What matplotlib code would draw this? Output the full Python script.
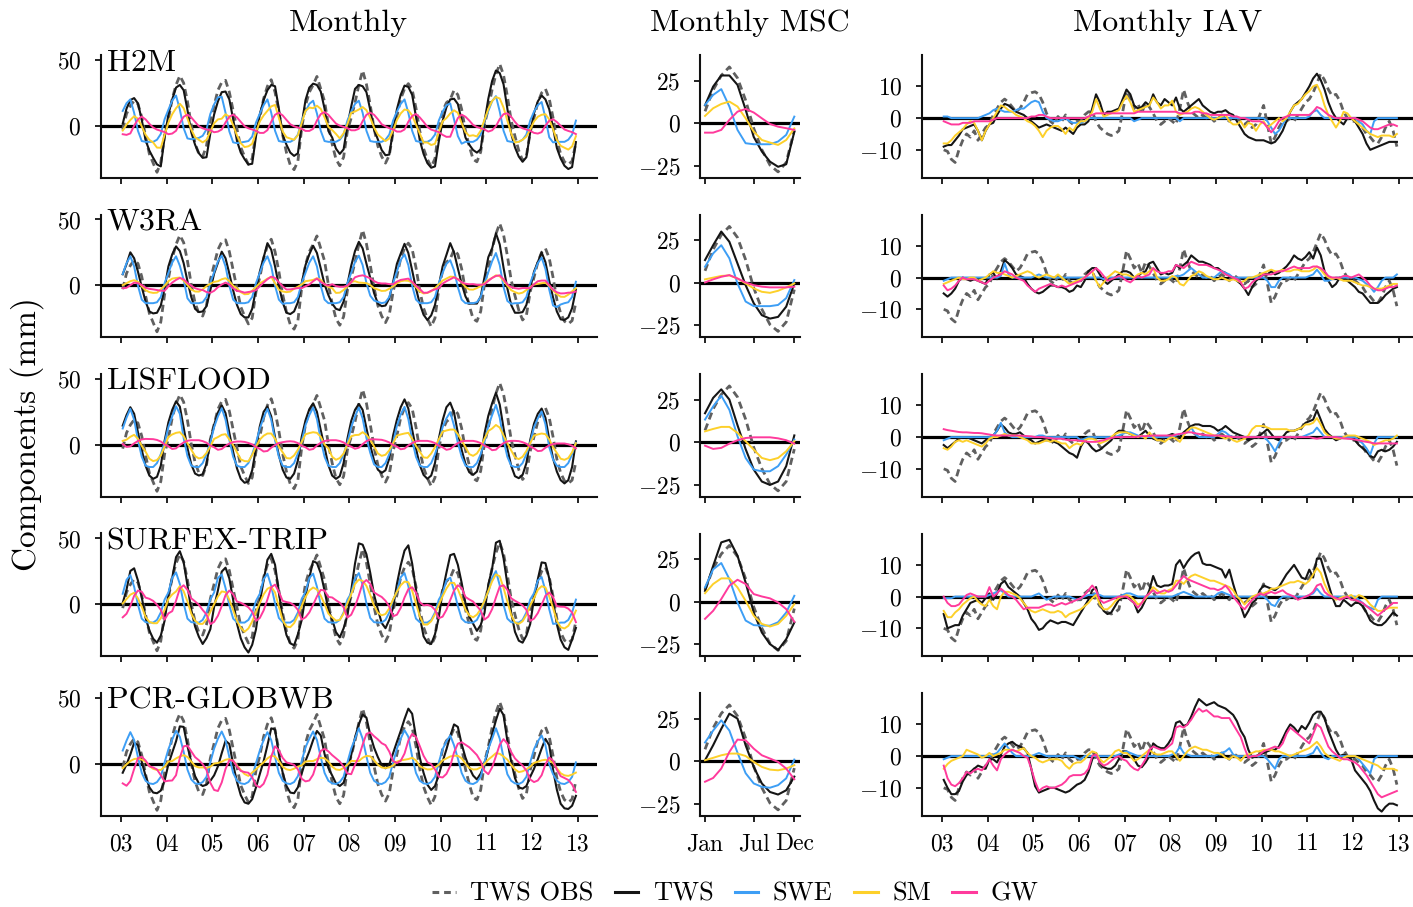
import numpy as np
import matplotlib
matplotlib.use("Agg")
import matplotlib.pyplot as plt
from matplotlib.lines import Line2D

plt.rcParams['font.family'] = 'serif'
plt.rcParams['font.serif'] = ['cmr10']
plt.rcParams['mathtext.fontset'] = 'cm'
plt.rcParams['axes.formatter.use_mathtext'] = True
plt.rcParams['axes.unicode_minus'] = True

# ---------------- data ----------------
models = ["H2M", "W3RA", "LISFLOOD", "SURFEX-TRIP", "PCR-GLOBWB"]
year_ticks = [2003, 2004, 2005, 2006, 2007, 2008, 2009, 2010, 2011, 2012, 2013]
year_labels = ["03", "04", "05", "06", "07", "08", "09", "10", "11", "12", "13"]
msc_ticks = [1, 7, 12]
msc_labels = ["Jan", "Jul", "Dec"]
months = [1, 2, 3, 4, 5, 6, 7, 8, 9, 10, 11, 12]

# Mean seasonal cycle (Jan..Dec)
OBS_MSC = [7, 19.5, 28, 33, 26.5, 13.5, -3, -15.5, -24.5, -28.5, -23, -4]

H2M_TWS_MSC = [10.5, 21.5, 28, 28, 22.5, 8, -8, -16.5, -22.5, -25.5, -24, -5]
H2M_SWE_MSC = [10.7, 16.6, 20, 9.8, -3.9, -11.7, -12.3, -12.3, -12.3, -10.7, -6.8, 3.9]
H2M_SM_MSC = [4.3, 8.8, 11.3, 12.7, 9.8, 2.9, -4.9, -9.8, -11.3, -12.7, -9.8, -3]
H2M_GW_MSC = [-5.5, -5.5, -3.9, 2, 6.8, 8.4, 6.3, 2.9, -0.4, -2, -2.9, -3.9]

W3RA_TWS_MSC = [13.3, 22, 30, 24, 11.3, -1.4, -12, -19, -21, -20, -14, -0.4]
W3RA_SWE_MSC = [9.4, 17.2, 22, 14.3, -0.4, -11, -13.7, -13.7, -13.7, -13, -9, 1.6]
W3RA_SM_MSC = [2, 3, 4, 4.3, 2.5, -0.4, -3.3, -5.3, -5.9, -4.7, -2.7, -0.4]
W3RA_GW_MSC = [0.2, 2, 3.5, 4.5, 2.5, 0.2, -1.4, -2.3, -2.7, -2.7, -2.7, -2.3]

LIS_TWS_MSC = [17, 26, 31, 25, 10, -4, -16, -23, -25, -23, -14, 4]
LIS_SWE_MSC = [13.3, 21, 27.3, 19, 3.5, -9.2, -16, -17, -17, -14, -7.2, 1.6]
LIS_SM_MSC = [6.4, 7.8, 9, 9, 5.5, 0.6, -4.3, -9.2, -10.5, -9.2, -5.3, 0.6]
LIS_GW_MSC = [-2, -3.9, -3.3, -0.8, 1.2, 2.5, 2.9, 2.9, 2.9, 2.3, 1.2, -0.8]

SUR_TWS_MSC = [6.4, 21, 34.8, 36.3, 27, 11.3, -6.3, -18, -24.8, -28.3, -21.9, -12.1]
SUR_SWE_MSC = [8.4, 19, 22.7, 13.3, -0.4, -11, -13.7, -14, -14, -12, -6.3, 3.5]
SUR_SM_MSC = [5, 10.4, 13.7, 13.7, 8.4, 0.6, -8.2, -13, -14.5, -13, -8.2, -1.4]
SUR_GW_MSC = [-10, -5.3, 1.6, 9.4, 12.9, 10.4, 4.5, 3.1, 2, -0.4, -4.3, -11.7]

PCR_TWS_MSC = [0.6, 9.4, 19, 27.9, 25, 9.4, -3.3, -13, -18, -19.5, -17, -9]
PCR_SWE_MSC = [11, 18, 24, 18, 5, -7, -13, -15, -15.5, -14, -10, 1]
PCR_SM_MSC = [0.6, 2, 3.5, 4.5, 4.5, 3.1, -0.4, -3.3, -4.9, -5.3, -4.3, -2.3]
PCR_GW_MSC = [-12, -9.8, -4.3, 5.5, 12.7, 12.3, 7.4, 3.5, 1.6, -0.4, -4.3, -10.5]

# Interannual anomalies, monthly Jan 2003 .. Dec 2012
OBS_IAV = [-10, -10.5, -13, -14, -10, -7, -5, -6, -4, -7, -5, -3,
           -2, 1, 3, 5, 6, 5, 3.5, 2, 3, 5, 7.5, 8,
           8.3, 7.5, 5, 1.5, -1, -2, 0.5, -1, 1, -1, -2, -1,
           -1, 1, 2, 2, -1, -3, -4, -5, -5.5, -5, -4, 2,
           8.5, 6, 3, 4.5, 1.5, 5, 3.5, 1.5, -1, -2, -1, 0,
           -1, -2, 3, 9, 5, 2, 1, 0, 1, 0, 0.5, -1,
           0, 1, 0, -1, 1, 0, -1, -2, -1, -3, -2, 1,
           4, -2, -8, -6, -3, -1, -1, 0, -1, 1, 3, 5,
           6, 8, 11, 14, 12, 9, 7, 7.5, 5.5, 2, 0, -1,
           -1, -2, -3, -5, -6, -7.5, -8, -6, -3, -1, -4, -9]

H2M_TWS_IAV = [-9, -8.5, -8.5, -7, -5.5, -3.5, -3, -2.5, -2, -4, -7, -4,
               -2, -1.5, 1, 3, 4.5, 4, 3, 2, 1.5, 1, 0, -1,
               -2, -3, -2.5, -2, -2.5, -3, -3.5, -4, -3, -4, -5, -3,
               -2, -2, -1, 3, 7.5, 5, 1, 2, 2, 2.5, 3, 6,
               9, 7.5, 4, 3, 3.5, 5, 4, 7.5, 5, 4, 6, 5,
               4, 6.5, 3, 2, 3, 4, 5, 6, 4, 3, 2, 1.5,
               2, 2, 2.5, 1.5, 1, -1, -3, -5, -6, -6.5, -7, -7,
               -7, -7.5, -8, -7.5, -6, -4, -1, 2, 4, 5, 6, 8,
               10, 12.5, 14, 12, 9, 5, 2, 0, -1, -2, 0, 0,
               -1, -3, -5, -8, -10, -9.5, -9, -8.5, -8, -7.5, -7.5, -7.5]
H2M_SWE_IAV = [0.5, 0.5, 0, 0, 0, 0, 0, 0, 0, 0, 0.5, 1,
               1.5, 2.5, 3, 2.5, 2, 2, 2, 2.5, 3, 3, 4, 5,
               5.5, 5, 2, 0, -0.5, -1, -1, -0.5, 0, -1, -1.5, -1.5,
               -1.5, -1, 0, 0, 0, 0, 0, 0, 0, 0, 0, 0,
               0, 0, -1, -0.5, 0, 0, 0, 0, 0, 0, 0, 0,
               0, 0, -1, 0, 0, 0, 0, 0, 0, 0, 0, 0,
               0, 0, 0, 0, 0, 0, 0, 0, 0, 0, 0, 0,
               0, -1, -3, -5, -4, -2, 0, 0, 0, 0, 0, 0,
               0.5, 2, 2.5, 1, 0, 0, 0, 0, 0, 0, 0, 0,
               0, -1, -2, -4, -5, -1, 0, 0, 0, 0, 0, 0]
H2M_SM_IAV = [-8, -8, -7, -5.5, -4.5, -3.5, -2, -1, -1.5, -4, -7, -4,
              -2, 0, 2, 4, 3.5, 2.5, 2, 1, 0.5, 0, -1, -1.5,
              -2.5, -4, -6, -4, -3, -2.5, -2.5, -3.5, -5, -3, -4, -2,
              -1, -1, 0, 2, 6, 3, 0.5, 1, 1.5, 2, 2.5, 5,
              7, 5, 2, 2.5, 3, 3.5, 4, 6.5, 5, 3, 4, 4,
              5.5, 2, 1, 1.5, 2, 3, 3.5, 3, 2, 1, 0, -0.5,
              0, 0.5, 1, -1, -2, -2, -1, -3, -1.5, -2, -4, -2,
              -1, -3, -2, -1, 0, -1, 0, 2, 4, 4.5, 6, 7.5,
              8.5, 10, 10.5, 8, 4, 1, -1, -3, -1, 2, 1.5, 0,
              -1, -2, -3, -4, -5, -5.5, -6, -5.5, -5.5, -5.5, -6, -5]
H2M_GW_IAV = [-1, -1.5, -2, -2, -2, -1.5, -1.5, -1.5, -1, -1, -1, -1,
              -1, -0.5, 0, 0, 0, 0, 0, 0, 0, 0, 0, 0.5,
              0.5, 1, 1, 0.5, 0, 0, 0, 0, 0, 0, 0, 0,
              0, 0, 0.5, 1, 1.5, 1.5, 1.5, 1.5, 1.5, 1.5, 1.5, 1.5,
              1.5, 1.5, 1.5, 2, 2, 2, 2, 2, 2, 2, 2, 2,
              2, 2, 1.5, 1.5, 1.5, 1.5, 2, 2, 1.5, 1.5, 1, 1,
              1, 1, 1, 1, 0.5, 0.5, 0, 0, -0.5, -1, -1, -1,
              -1.5, -3, -4.5, -3, -1, 0, 0.5, 1, 1, 1, 1, 1,
              1, 2, 3.5, 3, 2, 1, 0.5, 0, 0, 0, 0, 0,
              0, -0.5, -1, -2, -3, -3.5, -3.5, -3, -2.5, -2, -2, -2.5]

W3RA_TWS_IAV = [-5, -6, -5, -3.5, -1, 0, -0.5, -1, -0.5, -1, -1.5, -2,
                1, 1.5, -0.5, 2, 5.5, 4.5, 3, 1, 0.5, 0, -2, -3.5,
                -4.5, -5, -4.5, -3.5, -2.5, -2.5, -3, -3, -3.5, -4.5, -4, -2.5,
                -3, -1, 2, 3, 3, 1, -1, -2, -1, 0, 1, 2,
                2, 1.5, 0, 0.5, 1.5, 2, 4.5, 5, 3, 1, 1.5, 1,
                1.5, 4, 3, 4, 5, 7, 6, 5, 5, 4.5, 4, 3,
                3, 2, 1.5, 0.5, 0, -1, -2, -3.5, -5.5, -3, -1, 0,
                1, 1, 2, 1, 1.5, 2.5, 3.5, 5, 7, 6, 5.5, 6.5,
                8, 6, 9.5, 7, 2, -1, -3, -2, 0, -0.5, -1, -2,
                -3, -4.5, -5, -6.5, -8, -8, -8, -7, -5.5, -4.5, -3.5, -3]
W3RA_SWE_IAV = [-1, -0.5, 0, 0, 0, 0, 0, 0, 0, 0, 0, 0,
                0, 0, 0, 0.5, 4.5, 1, 0, 0, 0, 0, 0, 0,
                0.5, 1, 0.5, 0, 0, 0, 0, 0, 0, 0, 0, 0,
                0, 0, 0, 0, 0, 0, -0.5, 0, 0, 0, 0, 0,
                0, 0, 0, 0, 0, 0, 0, 0, 0, 0, 0, 0,
                0, 0.5, 0.5, 1, 2, 3, 2, 1, 0, 0, 0, 0,
                1, 2, 1.5, 1, 0, 0, 0, 0, 0, 0, 0, 0,
                0, -1, -3, -3, -1, 0, 0, 0, 0, 0, 0, 0,
                0.5, 1, 2.5, 1, -1, -1, -0.5, 0, 0, 0, 0, 0,
                0, -0.5, -1, -2, -3, -4.5, -3, -1, 0, 0, 0, 1]
W3RA_SM_IAV = [-2, -1.5, -1, -0.5, 0, -0.5, -0.5, 0, 0, -1, -0.5, 0,
               1, 2, 1.5, 1.5, 1, 0.5, 0, 0.5, 1, 1.5, 2, 1.5,
               0.5, 0, 0.5, 1, 0.5, 0, 1, 0, -1, -2, -1.5, -1,
               -0.5, 0, 1, 2, -1, -3, -1.5, 0, 1, 2, 1.5, 1,
               1, 0.5, 0, 1, 1.5, 1, 2, 3, 0, -1, -1, -0.5,
               0.5, 0, -2, -2.5, -1, 0.5, 1, 2, 1.5, 0.5, 0, -0.5,
               -0.5, 0, -0.5, -1, -0.5, -1, -1.5, -1, 0, 0, 0.5, 1,
               1.5, 2, 2.5, 2, 2, 2.5, 2, 2, 2.5, 2.5, 2, 2,
               2, 2.5, 3.5, 2.5, 1, 0, -0.5, 0, -0.5, -1, -1, -1,
               -1.5, -2, -2.5, -2.5, -3, -3.5, -3.5, -3.5, -3, -2.5, -2, -2]
W3RA_GW_IAV = [-2.5, -4, -3.5, -2.5, -1, 0, -0.5, -0.5, -0.5, -1, -1.5, -2,
               -1, 0, 0.5, 1, 2, 1.5, 1, 0, -0.5, -1, -2.5, -3.5,
               -4.5, -3.5, -3, -2.5, -2, -2.5, -3, -2.5, -3, -2.5, -2, -1.5,
               -1, 0, 1, 2, 3, 2, 0.5, -1, -0.5, 0, 0.5, 0,
               -1, -1.5, -0.5, 0.5, 0, 0.5, 1, 3, 2, 1.5, 1.5, 2,
               2, 4, 3.5, 3, 4, 5, 4.5, 4, 4, 4, 3.5, 3,
               2.5, 2, 1, 0.5, 0, -0.5, -1.5, -3.5, -3, -1.5, -0.5, 0,
               1, 1, 1, 1.5, 2, 2, 2.5, 3, 3.5, 3, 3, 3,
               3, 3.5, 3.5, 3, 2, 0.5, 0, 0, 0, 0.5, 0.5, 0,
               0.5, 1, 0, -1, -2.5, -3.5, -4, -4, -3.5, -3, -3, -2.5]

LIS_TWS_IAV = [-2.5, -3.5, -2.5, -1.5, -0.5, 0, 0, -0.5, -1, -1.5, -2, -1,
               0, 0.5, 2, 4, 3, 1.5, 1, 1, 1.5, 0.5, -0.5, -1,
               -2, -1.5, -1, -1, -1, -1.5, -2, -3, -4, -5, -5.5, -6.5,
               -3, -1, -2, -3.5, -4.5, -4, -3, -2, -1, 1, 2, 2,
               1.5, 1, 0.5, 0, 1, 2, 0.5, -0.5, -1, -1, 0, 0.5,
               1, 0.5, 0, 1.5, 2.5, 3.5, 4, 4, 3.5, 3.5, 3.5, 3,
               2, 2.5, 3.5, 2.5, 1.5, 1, 0.5, 0, -1, -0.5, 0, 0.5,
               1.5, 2.5, 1, -0.5, -1, 0, 1.5, 2, 2, 2.5, 3, 4.5,
               5, 5.5, 8.5, 5.5, 2.5, 1, 0, -1, -0.5, 0, 0, -0.5,
               -1, -2.5, -3.5, -4.5, -6, -6.5, -4.5, -4, -4.5, -4, -3, -1.5]
LIS_SWE_IAV = [-1, -0.5, 0, 0, 0, 0, 0, 0, 0, 0, 0, 0,
               0, 0.5, 2, 4.5, 1.5, 0.5, 0, 0, 0, 0, 0, 0,
               0, 0.5, 0.5, 0, 0, 0, 0, 0, 0, 0, 0, 0,
               -1, -0.5, 0, 0, 0, 0, 0, 0, 0, 0, 0.5, 1,
               1.5, 1.5, 1, 0.5, 0, 0, 0, 0, 0, 0, 0, 0,
               0, 0.5, 1, 1, 1.5, 3, 1, 0, 0, 0, 0, 0,
               1, 2, 1.5, 0.5, 0, 0, 0, 0, 0, 0, 0, 0,
               0, -1, -2.5, -4.5, -2, 0, 0, 0, 0, 0, 0, 0.5,
               1, 1.5, 3, 1.5, 0, 0, 0, 0, 0, 0, 0, 0,
               0, -1, -2, -3.5, -5.5, -2, 0, 0, 0, 0, 0, 0]
LIS_SM_IAV = [-3.5, -4, -3, -1.5, -1, -1.5, -1, -1.5, -2, -2.5, -3, -2,
              -0.5, 0, 0, 0.5, 1, 0.5, 0.5, 0.5, 0, -0.5, -1, -2,
              -2, -2, -1.5, -1, -1.5, -1, -1.5, -2, -2, -3.5, -2.5, -2,
              -2.5, -1, -0.5, -0.5, -1, -2, -1.5, -1, 0, 1, 1.5, 1.5,
              1.5, 1, 0.5, 0, 0.5, -0.5, 1.5, 0, -1, -1, -1.5, -0.5,
              0, -0.5, -1.5, 0.5, 2, 3, 3, 2.5, 2, 1.5, 1, 0.5,
              0.5, 0, -0.5, 0, -1, -1.5, -1, -0.5, 0.5, 2.5, 3.5, 3.5,
              3.5, 3, 2.5, 2.5, 2.5, 2.5, 2.5, 2, 2, 2.5, 3, 4,
              4, 4.5, 6, 4, 1.5, 0.5, 0, -0.5, -0.5, 0, 0.5, 0.5,
              0.5, 0, -0.5, -1, -1.5, -2.5, -2, -1.5, -1, -1, -0.5, 0.5]
LIS_GW_IAV = [2.5, 2.2, 2, 1.8, 1.6, 1.5, 1.5, 1.4, 1.3, 1.3, 1.2, 1,
              0.8, 0.6, 0.5, 0.5, 0.5, 0.5, 0.5, 0.5, 0.5, 0.4, 0.3, 0.2,
              0, 0, 0, -0.2, -0.3, -0.5, -0.5, -0.5, -0.8, -1, -1, -1,
              -1.2, -1.3, -1.5, -1.5, -1.5, -1.2, -1, -0.5, -0.3, 0, 0, 0,
              0, 0, 0, 0.2, 0.3, 0.3, 0.4, 0.5, 0.5, 0.5, 0.5, 0.5,
              0.5, 0.8, 1, 1.2, 1.5, 1.5, 1.2, 1, 0.8, 0.6, 0.5, 0.5,
              0.5, 0.4, 0.3, 0.2, 0, 0, 0, 0, 0, 0, 0, 0,
              0, 0, 0, 0, 0, 0, 0, 0, 0, 0, 0, 0,
              0, -0.3, -0.5, -0.3, 0, 0, 0, 0, -0.2, -0.4, -0.5, -0.6,
              -0.8, -1, -1.3, -1.5, -1.7, -2, -2, -2, -2, -2, -2, -2]

SUR_TWS_IAV = [-5.5, -10, -9.5, -9, -9, -6, -4, -2, -1.5, -1, -2, -0.5,
               1, -1, 1, 4, 5, 3, 2, 1, 0, -2, -4, -7,
               -8.5, -10.5, -10, -8.5, -7.5, -8, -8.5, -8, -8, -8.5, -9, -7,
               -5, -3, -1, 2, 3, -2, -4.5, -5.5, -5, -3, -1, 0,
               0, -1, -2, -5, -3.5, -1, 2, 6.5, 3.5, 3, 3.5, 3.5,
               4, 10, 11.5, 9, 11, 12.5, 13.5, 14, 10.5, 10, 10, 9.5,
               9, 8.5, 6, 8.5, 4, 0, -3, -6.5, -4.5, -2, -1, 2,
               3.5, 3, 2.5, 2, 3, 5, 7, 8.5, 10, 8, 6, 5.5,
               8.5, 6, 12, 12, 8, 4, 0, -3, -3, -1, -2, -3,
               -2, -2, -3, -5, -7.5, -8.5, -9, -9, -8, -6.5, -5, -6]
SUR_SWE_IAV = [-0.5, -0.5, -0.5, 0, 0, 0, 0, 0, 0, 0, 0, 0,
               0.5, 1, 1.5, 2, 1, 0, 0, 0, 0, 0, 0, 0,
               0.5, 1, 0, -1, -0.5, 0, 0, 0, 0, 0, -0.5, -1,
               -0.5, 0, 0.5, 0.5, 1, 0.5, 0, 0, 0, 0, 0, 0.5,
               1, 1, 0.5, 0, 0, 0, 0, 0, 0, 0, 0, 0,
               0, 0.5, 1, 1.5, 1, 0.5, 0, 0, 0, 0, 0, 0,
               1, 1.5, 1, 0.5, 0, 0, 0, 0, 0, 0, 0, 0,
               0, -1, -2.5, -3, -1, 0, 0, 0, 0, 0, 0, 0,
               0.5, 1, 2.5, 1, 0, 0, 0, 0, 0, 0, 0, 0,
               0, -1, -2, -3, -3.5, -4, -1, 0, 0, 0, 0, 0]
SUR_SM_IAV = [-4.5, -6.5, -6.5, -5, -4, -2.5, -1.5, -0.5, 0, -1.5, -2.5, -3,
              -1, -3, -4, 0, 1.5, 1.5, 1, 0.5, -0.5, -2, -3.5, -4.5,
              -5, -4.5, -4, -4.5, -5, -5, -4.5, -5, -6.5, -5.5, -5, -4.5,
              -4, -3, -2, -0.5, 0.5, -2.5, -4, -4, -3, -1.5, -0.5, 0,
              0.5, 0, -1, -2.5, -2, -0.5, 1, 3, 2, 1, 1, 2,
              2.5, 5, 5, 4, 5.5, 6.5, 7, 6.5, 6, 5.5, 5, 5,
              4.5, 4, 3.5, 3, 2, 0, -1, -2.5, -1, 0, 0.5, 1,
              1, 1.5, 2.5, 2.5, 3, 3.5, 4, 4.5, 4.5, 5, 4.5, 4,
              5, 7, 9, 7.5, 4, 1.5, 0, -1, -0.5, 0, 0, 0.5,
              -0.5, 0.5, 0, -1, -2.5, -3.5, -4.5, -4.5, -4, -3.5, -3.5, -3.5]
SUR_GW_IAV = [0, -2, -3, -3, -2.5, -1, 0.5, 1, 0.5, 0, 0, 0,
              3, 0, 1, 2.5, 1.5, 0.5, 0, -1, -2.5, -4, -3.5, -3.5,
              -3.5, -3.5, -3, -2.5, -2.5, -3, -2.5, -2, -2.5, -2, -1.5, -1,
              -0.5, 0.5, 2, 3.5, 2, -1, -2, -1.5, -1, -0.5, 0, 0,
              0, -1, -2, -3.5, -2, 0, 1, 2, 1, 1.5, 2, 1.5,
              2, 3.5, 5, 6.5, 5.5, 5, 4.5, 4, 3.5, 3, 2.5, 2.5,
              2, 2.5, 3.5, 2, 0, -1.5, -3, -4, -2.5, -1, 0, 1,
              0.5, 1, 1.5, 1, 1.5, 2, 1, 0.5, 0, -1, -0.5, 0,
              0.5, 1.5, 3.5, 4, 1.5, 0.5, 0, -0.5, -1, -0.5, 0, -1,
              -1, -1.5, -2, -3, -4, -5, -6, -5, -4, -3, -2, -2]

PCR_TWS_IAV = [-7.5, -10, -12, -12, -11, -8, -6, -5, -4, -3, -3.5, -4,
               -1, -1, -2, 0.5, 3, 4, 4.5, 3.5, 3, 2.5, 1, -4,
               -9.5, -11.5, -11, -10.5, -10, -10, -10.5, -11, -11.5, -11, -10, -9,
               -8.5, -7.5, -5, -1, 1, -2, -3.5, -4, -4, -3, -1, 1.5,
               1.5, 0, -1, -3, -3.5, -2, 0, 4, 3, 2.5, 2.5, 4,
               6, 10.5, 11, 9.5, 10, 12.5, 15.5, 18, 17, 16, 16.5, 17,
               16, 15.5, 15, 14, 13, 11, 8, 6, 2, -0.5, 0, 0.5,
               1, 1.5, 2, 2, 3, 5.5, 8, 10, 9, 7.5, 9.5, 8.5,
               10.5, 13, 14, 14, 12, 8, 5, 2, 0, 0.5, 0, -1,
               -4.5, -6, -7.5, -9, -11, -14, -16.5, -17.5, -16, -15, -15, -15.5]
PCR_SWE_IAV = [-1, -0.5, 0, 0, 0, 0, 0, 0, 0, 0, 0, 0,
               0, 0.5, 1, 2.5, 4, 2.5, 1, 0, 0, 0, 0, 0,
               0.5, 1, 0.5, 0, 0, 0, 0, 0, 0, 0, 0, -0.5,
               -1, 0, 0, 0, 0, 0, 0, 0, 0, 0, 0.5, 1,
               1.5, 1, 0.5, 0, 0, 0, 0, 0, 0, 0, 0, 0,
               0.5, 1, 3, 1, 0.5, 0, 0, 0, 0, 0, 0, 0,
               0.5, 1, 1.5, 2.5, 0.5, 0, 0, 0, 0, 0, 0, 0,
               0, -1, -2.5, -4, -1, 0, 0, 0, 0, 0, 0, 0,
               0.5, 1, 3, 1, -0.5, -1, 0, 0, 0, 0, 0, 0,
               0, -1, -2.5, -4, -5.5, -1, 0, 0, 0, 0, 0, 0]
PCR_SM_IAV = [-4, -2.5, -1.5, -1, -0.5, 0, 2, 1.5, 1, 0.5, -0.5, 0,
              1, 0, 0.5, 1, 2, 2, 2, 1.5, 2, 2.5, 1, 0,
              -0.5, -1.5, -2, -1.5, -1, -1, -1, -1.5, -3, -4, -2.5, -2,
              -2, -1, 0.5, 1.5, 1, -1, -2, -1, 0, 1.5, 2, 1,
              1, 0, -1.5, -1, 0, 1, 2, 1, 0.5, 0.5, 1, 1.5,
              1.5, 0, -1.5, 0, 1.5, 2.5, 3, 2.5, 2, 2, 1.5, 1,
              1, 0.5, -0.5, -1, 0, -0.5, -1.5, 0, 0.5, 1, 1.5, 1.5,
              2, 2, 2, 1.5, 1.5, 1, 0.5, 0, 0.5, 1, 1.5, 2,
              2.5, 3.5, 4.5, 3, 1, 0, -0.5, -1, -1.5, -0.5, 0, 0,
              0, -0.5, -1, -1.5, -2, -2.5, -3, -4, -4, -4, -4, -4.5]
PCR_GW_IAV = [-3, -7, -9, -9.5, -8.5, -7, -5, -5.5, -4.5, -4, -4.5, -3,
              -1, -3, -4.5, -1, 0.5, 1.5, 2, 1.5, 1, 0, -0.5, -4,
              -8, -11, -10, -9.5, -10, -10, -9.5, -9, -8, -6.5, -6, -6,
              -6, -5.5, -4, 0, 0.5, -2, -3, -2.5, -1.5, -0.5, 0, -1,
              -1.5, -3, -4, -4.5, -3, -1, 2, 3, 2.5, 2, 2, 3,
              4, 9, 9.5, 9, 10, 11.5, 13.5, 15, 14, 14.5, 13.5, 12.5,
              12.5, 12, 12, 12, 10, 8, 6, 2.5, -0.5, 0, 0, 0.5,
              1.5, 2, 2.5, 3, 2.5, 4, 7, 9, 8, 7, 6, 5,
              4, 7, 10, 9, 6, 3, 1.5, 0.5, -0.5, -1, -1, -1.5,
              -2, -3, -4.5, -6, -8, -10, -12, -13, -12.5, -12, -11.5, -11]

# ---------------- assemble ----------------
msc_table = {
    "H2M": [H2M_TWS_MSC, H2M_SWE_MSC, H2M_SM_MSC, H2M_GW_MSC],
    "W3RA": [W3RA_TWS_MSC, W3RA_SWE_MSC, W3RA_SM_MSC, W3RA_GW_MSC],
    "LISFLOOD": [LIS_TWS_MSC, LIS_SWE_MSC, LIS_SM_MSC, LIS_GW_MSC],
    "SURFEX-TRIP": [SUR_TWS_MSC, SUR_SWE_MSC, SUR_SM_MSC, SUR_GW_MSC],
    "PCR-GLOBWB": [PCR_TWS_MSC, PCR_SWE_MSC, PCR_SM_MSC, PCR_GW_MSC],
}
iav_table = {
    "H2M": [H2M_TWS_IAV, H2M_SWE_IAV, H2M_SM_IAV, H2M_GW_IAV],
    "W3RA": [W3RA_TWS_IAV, W3RA_SWE_IAV, W3RA_SM_IAV, W3RA_GW_IAV],
    "LISFLOOD": [LIS_TWS_IAV, LIS_SWE_IAV, LIS_SM_IAV, LIS_GW_IAV],
    "SURFEX-TRIP": [SUR_TWS_IAV, SUR_SWE_IAV, SUR_SM_IAV, SUR_GW_IAV],
    "PCR-GLOBWB": [PCR_TWS_IAV, PCR_SWE_IAV, PCR_SM_IAV, PCR_GW_IAV],
}

n_months = len(OBS_IAV)
t = 2003 + (np.arange(n_months) + 0.5) / 12.0
n_years = n_months // 12

def monthly(msc, iav):
    return np.tile(np.asarray(msc, float), n_years) + np.asarray(iav, float)

# ---------------- style ----------------
C_OBS = '#606060'
C_TWS = '#151515'
C_SWE = '#3d9ef5'
C_SM = '#fdd02a'
C_GW = '#ff3a9c'
comp_colors = [C_TWS, C_SWE, C_SM, C_GW]
comp_lw = [1.5, 1.4, 1.4, 1.4]
OBS_DASH = (2.6, 1.6)

W, H = 1413, 907
fig = plt.figure(figsize=(W / 100, H / 100), dpi=100)

col_px = [(100.7, 496.3), (700.0, 100.0), (921.7, 496.3)]
ax_h = 122.7
row_top0 = 55.0
row_step = 159.5

TICK_FS = 17

def style_axis(ax):
    for s in ['top', 'right']:
        ax.spines[s].set_visible(False)
    for s in ['left', 'bottom']:
        ax.spines[s].set_linewidth(1.5)
        ax.spines[s].set_color('#111111')
    ax.tick_params(direction='out', length=4.5, width=1.3, labelsize=TICK_FS,
                   color='#111111')
    ax.tick_params(axis='y', pad=9.5)
    ax.tick_params(axis='x', pad=8)
    ax.axhline(0, color='black', lw=2.3, zorder=1)

def draw_lines(ax, x, obs, comps):
    ax.plot(x, obs, color=C_OBS, lw=2.0, dashes=OBS_DASH, zorder=2)
    for k, y in enumerate(comps):
        ax.plot(x, y, color=comp_colors[k], lw=comp_lw[k], zorder=3 + k)

for r, m in enumerate(models):
    top = row_top0 + r * row_step
    bottom_frac = 1 - (top + ax_h) / H
    h_frac = ax_h / H
    axes = [fig.add_axes([c[0] / W, bottom_frac, c[1] / W, h_frac]) for c in col_px]
    a1, a2, a3 = axes
    for a in axes:
        style_axis(a)

    msc = msc_table[m]
    iav = iav_table[m]

    # Monthly
    draw_lines(a1, t, monthly(OBS_MSC, OBS_IAV),
               [monthly(msc[k], iav[k]) for k in range(4)])
    a1.set_xlim(2002.56, 2013.42)
    a1.set_ylim(-39.6, 53.8)
    a1.set_yticks([0, 50])
    a1.set_xticks(year_ticks)
    a1.text(0.012, 1.045, m, transform=a1.transAxes, ha='left', va='top',
            fontsize=23)

    # MSC
    draw_lines(a2, months, OBS_MSC, msc)
    a2.set_xlim(0.38, 12.7)
    a2.set_ylim(-31.9, 40)
    a2.set_yticks([-25, 0, 25])
    a2.set_xticks(msc_ticks)

    # IAV
    draw_lines(a3, t, OBS_IAV, iav)
    a3.set_xlim(2002.56, 2013.42)
    a3.set_ylim(-18.8, 19.9)
    a3.set_yticks([-10, 0, 10])
    a3.set_xticks(year_ticks)

    if r == len(models) - 1:
        a1.set_xticklabels(year_labels)
        a3.set_xticklabels(year_labels)
        a2.set_xticklabels(msc_labels)
    else:
        for a in axes:
            a.set_xticklabels([])

# column titles
fig.text(348 / W, 1 - 23 / H, "Monthly", ha='center', va='center', fontsize=23)
fig.text(750 / W, 1 - 23 / H, "Monthly MSC", ha='center', va='center', fontsize=23)
fig.text(1168 / W, 1 - 23 / H, "Monthly IAV", ha='center', va='center', fontsize=23)

# y label
fig.text(27 / W, 1 - 434 / H, "Components (mm)", rotation=90, ha='center',
         va='center', fontsize=24)

# legend
handles = [
    Line2D([], [], color=C_OBS, lw=2.2, dashes=(2.2, 1.6)),
    Line2D([], [], color=C_TWS, lw=2.2),
    Line2D([], [], color=C_SWE, lw=2.2),
    Line2D([], [], color=C_SM, lw=2.2),
    Line2D([], [], color=C_GW, lw=2.2),
]
labels = ["TWS OBS", "TWS", "SWE", "SM", "GW"]
fig.legend(handles, labels, loc='center', bbox_to_anchor=(735 / W, 1 - 894 / H),
           ncol=5, frameon=False, fontsize=19, handlelength=0.9,
           handletextpad=0.55, columnspacing=0.8)

fig.savefig("out.png", dpi=100)
